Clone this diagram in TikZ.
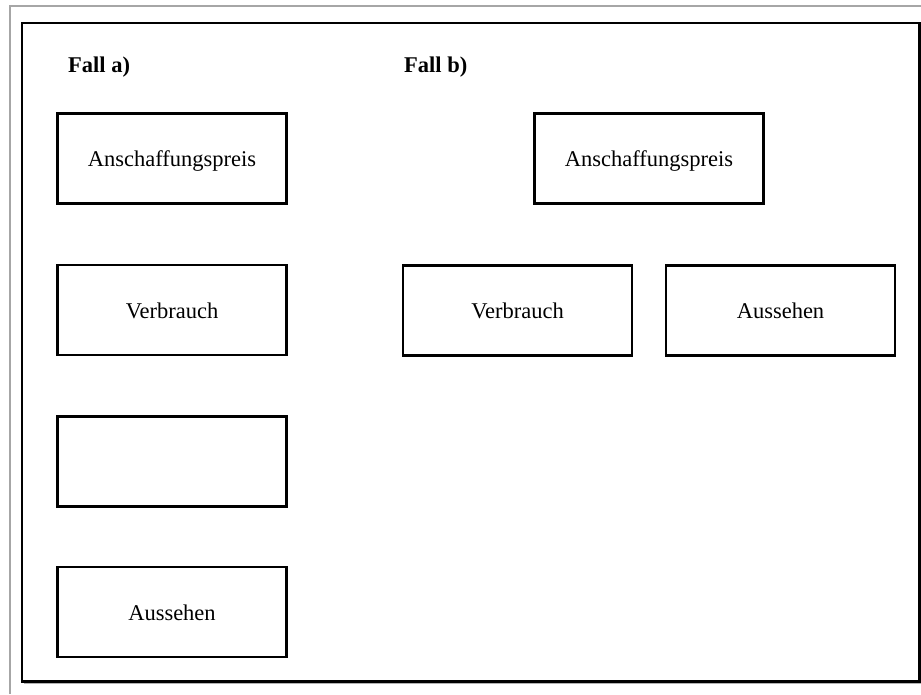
\documentclass[tikz,border=0pt]{standalone}
\usepackage{fontspec}
\setmainfont{Liberation Serif}
\begin{document}
\begin{tikzpicture}[x=1pt,y=-1pt,
  crit/.style={draw=black, line width=2.2pt, rectangle, minimum width=229pt,
    minimum height=90pt, inner sep=0pt, text height=17pt, text depth=0.5pt,
    font=\fontsize{22.5}{26}\selectfont},
  casehead/.style={anchor=west, inner sep=0pt, font=\fontsize{22.5}{26}\selectfont\bfseries}]
\useasboundingbox (0,0) rectangle (921,694);
% outer page edges
\draw[gray!70, line width=1.5pt] (10,694) -- (10,6) -- (921,6);
% frame with a light shadow
\draw[gray!60, line width=1.2pt] (24,683.5) -- (921,683.5);
\draw[line width=2.2pt] (22,23) rectangle (919.5,681.5);
% case a
\node[casehead] (ha) at (68,67.5) {Fall a)};
\node[crit] (a1) at (172,158.5) {Anschaffungspreis};
\node[crit] (a2) at (172,310) {Verbrauch};
\node[crit] (a3) at (172,461.5) {};
\node[crit] (a4) at (172,612) {Aussehen};
% case b
\node[casehead] (hb) at (404,67.5) {Fall b)};
\node[crit] (b1) at (649,158.5) {Anschaffungspreis};
\node[crit] (b2) at (517.5,310.5) {Verbrauch};
\node[crit] (b3) at (780.5,310.5) {Aussehen};
\end{tikzpicture}
\end{document}
